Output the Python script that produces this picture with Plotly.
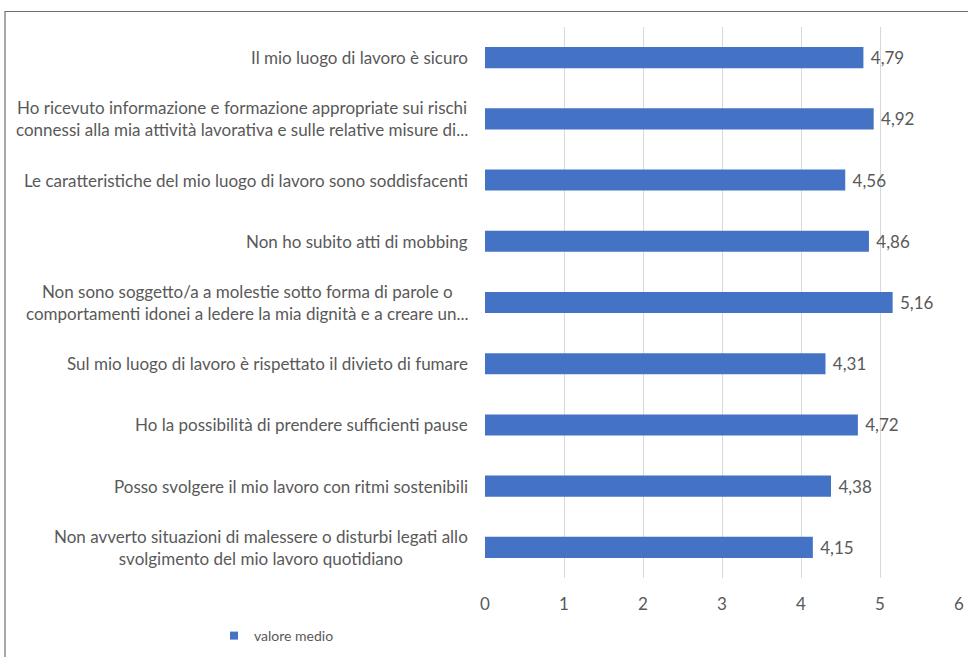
import plotly.graph_objects as go

# Survey items (top to bottom) and their mean scores
categories = [
    "Il mio luogo di lavoro è sicuro",
    "Ho ricevuto informazione e formazione appropriate sui rischi<br>connessi alla mia attività lavorativa e sulle relative misure di...",
    "Le caratteristiche del mio luogo di lavoro sono soddisfacenti",
    "Non ho subito atti di mobbing",
    "Non sono soggetto/a a molestie sotto forma di parole o<br>comportamenti idonei a ledere la mia dignità e a creare un...",
    "Sul mio luogo di lavoro è rispettato il divieto di fumare",
    "Ho la possibilità di prendere sufficienti pause",
    "Posso svolgere il mio lavoro con ritmi sostenibili",
    "Non avverto situazioni di malessere o disturbi legati allo<br>svolgimento del mio lavoro quotidiano",
]
values = [4.79, 4.92, 4.56, 4.86, 5.16, 4.31, 4.72, 4.38, 4.15]
x_ticks = [0, 1, 2, 3, 4, 5, 6]
series_name = "valore medio"

FONT = "Lato"
FS = 17
GREY = "#595959"
BLUE = "#4472C4"

W, H = 968, 657
L, R, T, B = 485, 9, 27, 79
plot_w = W - L - R
plot_h = H - T - B

ids = list(range(len(categories)))

fig = go.Figure()
fig.add_trace(go.Bar(
    y=ids,
    x=values,
    orientation="h",
    name=series_name,
    marker=dict(color=BLUE, line=dict(width=0)),
    width=0.345,
    texttemplate="\u00a0%{x:.2f}",
    textposition="outside",
    textfont=dict(family=FONT, size=FS, color=GREY),
    cliponaxis=False,
    showlegend=False,
    hoverinfo="x+y",
))
# Legend entry with a small square swatch
fig.add_trace(go.Scatter(
    x=[None], y=[None], mode="markers", name=series_name,
    marker=dict(symbol="square", size=8, color=BLUE),
    showlegend=True, hoverinfo="skip",
))

# Category labels, centred within their block and right-aligned to the axis
annotations = []
for i, cat in enumerate(categories):
    annotations.append(dict(
        x=-(L - 470) / plot_w, xref="paper",
        y=i, yref="y",
        text=cat, showarrow=False,
        xanchor="right", yanchor="middle", align="center",
        font=dict(family=FONT, size=FS, color=GREY),
    ))

# Chart-area frame
shapes = [dict(
    type="rect", xref="paper", yref="paper",
    x0=-(L - 5) / plot_w, x1=1.2,
    y0=-0.3, y1=1 + (T - 11.5) / plot_h,
    line=dict(color="#6F6F6F", width=1.2),
    fillcolor="rgba(0,0,0,0)", layer="below",
)]

fig.update_layout(
    width=W, height=H,
    margin=dict(l=L, r=R, t=T, b=B, pad=0, autoexpand=False),
    paper_bgcolor="white", plot_bgcolor="white",
    separators=",.",
    font=dict(family=FONT, size=FS, color=GREY),
    xaxis=dict(
        range=[0, 6], tickvals=x_ticks, showgrid=True,
        gridcolor="#D9D9D9", gridwidth=1, zeroline=False,
        showline=False, ticks="", ticklabelstandoff=14,
        tickfont=dict(family=FONT, size=FS, color=GREY),
        fixedrange=True,
    ),
    yaxis=dict(
        range=[len(categories) - 0.5, -0.5],
        tickvals=ids, showticklabels=False, showgrid=False,
        zeroline=False, showline=False, fixedrange=True,
    ),
    legend=dict(
        orientation="h", xref="container", yref="container",
        x=214 / W, xanchor="left",
        y=1 - 636 / H, yanchor="middle",
        font=dict(family=FONT, size=14, color=GREY),
        bgcolor="rgba(0,0,0,0)",
    ),
    annotations=annotations,
    shapes=shapes,
)

fig.write_html("out.html")
